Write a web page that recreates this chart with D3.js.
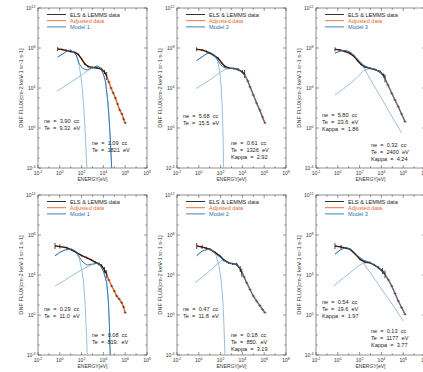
<!DOCTYPE html>
<html>
<head>
<meta charset="utf-8">
<script src="https://cdn.jsdelivr.net/npm/d3@7"></script>
<style>
  body { margin: 0; background: #fff; }
  svg { display: block; font-family: "Liberation Sans", Arial, sans-serif; }
</style>
</head>
<body>
<div id="chart"></div>
<script>
// values are [log10(E / eV), log10(flux)]; data rows carry an error (decades)
const p1Data = [[-0.2,7.9,0.2],[0.2,7.85,0.1],[0.6,7.75,0.1],[1.0,7.65,0.1],[1.4,7.55,0.1],[1.7,7.35,0.1],[2.0,6.9,0.1],[2.3,6.4,0.1],[2.6,6.15,0.1],[3.0,6.05,0.1],[3.4,6.0,0.1],[3.8,5.9,0.15],[4.1,5.6,0.2],[4.3,5.2,0.4]];
const p1Adjusted = [[4.5,4.6],[4.7,4.0],[4.9,3.5],[5.1,3.0],[5.3,2.4],[5.5,1.8],[5.7,1.4],[5.85,0.9],[6.0,0.5]];
const p1Cold = [[-0.2,7.03],[0,7.22],[0.5,7.62],[1.0,7.8],[1.5,7.29],[1.8,6.13],[2.0,4.61],[2.2,2.09],[2.35,-0.8],[2.45,-3.4],[2.5,-4]];
const p1Hot = [[-0.25,3.7],[1,4.55],[2,5.3],[2.5,5.7],[3,6.0],[3.4,6.2],[3.7,6.05],[4.0,5.4],[4.2,4.6],[4.4,2.7],[4.55,0.5],[4.65,-1.5],[4.76,-4]];
const p1Model = [[-0.2,7.1],[0.2,7.35],[0.6,7.65],[1.0,7.8],[1.5,7.35],[1.8,6.4],[2.1,5.95],[2.5,5.8],[3.0,6.05],[3.4,6.2],[3.7,6.05],[4.0,5.4],[4.2,4.6],[4.4,2.7],[4.55,0.5],[4.65,-1.5],[4.76,-4]];

const p2Data = [[-0.2,7.87,0.2],[0.3,7.8,0.1],[0.7,7.65,0.1],[1.0,7.5,0.1],[1.4,7.25,0.1],[1.8,6.95,0.1],[2.1,6.5,0.1],[2.4,6.15,0.1],[2.8,6.0,0.1],[3.2,5.95,0.1],[3.6,5.85,0.15],[4.0,5.6,0.2],[4.2,5.4,0.4]];
const p2Adjusted = [[4.5,4.7],[4.7,4.1],[5.0,3.3],[5.3,2.5],[5.6,1.8],[5.85,1.1],[6.07,0.5]];
const p2Cold = [[-0.2,6.7],[0.3,7.1],[0.7,7.4],[1.1,7.5],[1.4,7.3],[1.7,6.75],[1.9,5.8],[2.05,4.2],[2.15,2.0],[2.22,-0.5],[2.28,-4]];
const p2Hot = [[-0.2,3.97],[0.5,4.45],[1.0,4.8],[1.5,5.2],[2.0,5.6],[2.4,5.85],[2.8,5.95],[3.2,5.95],[3.6,5.85],[4.0,5.55],[4.4,4.9],[4.8,3.9],[5.2,2.8],[5.6,1.7],[6.0,0.65]];
const p2Model = [[-0.2,6.75],[0.3,7.12],[0.7,7.42],[1.1,7.52],[1.4,7.32],[1.7,6.85],[2.0,6.3],[2.4,6.0],[2.8,5.97],[3.2,5.95],[3.6,5.85],[4.0,5.55],[4.4,4.9],[4.8,3.9],[5.2,2.8],[5.6,1.7],[6.0,0.65]];

const p3Data = [[-0.26,7.87,0.2],[0.2,7.8,0.1],[0.6,7.68,0.1],[1.1,7.47,0.1],[1.5,7.15,0.1],[1.8,6.75,0.1],[2.1,6.4,0.1],[2.5,6.1,0.1],[2.95,5.97,0.1],[3.4,5.85,0.1],[3.87,5.63,0.15],[4.2,5.25,0.2],[4.33,4.97,0.4]];
const p3Adjusted = [[4.6,4.3],[4.95,3.47],[5.25,2.8],[5.55,2.13],[5.85,1.4],[6.17,0.63]];
const p3Cold = [[-0.26,7.47],[0.3,7.7],[0.82,7.73],[1.3,7.45],[1.8,6.85],[2.4,6.0],[3.0,4.84],[3.6,3.72],[4.2,2.6],[4.8,1.46],[5.3,0.52],[5.86,-0.5]];
const p3Hot = [[-0.26,3.3],[0.5,3.9],[1.2,4.5],[1.8,5.1],[2.4,5.75],[2.9,5.95],[3.4,5.85],[3.87,5.6],[4.3,4.95],[4.8,3.8],[5.3,2.65],[5.8,1.5],[6.17,0.63]];
const p3Model = [[-0.26,7.5],[0.3,7.72],[0.82,7.75],[1.3,7.47],[1.8,6.9],[2.4,6.25],[2.9,6.0],[3.4,5.87],[3.87,5.63],[4.3,5.0],[4.8,3.85],[5.3,2.7],[5.8,1.55],[6.17,0.65]];

const p4Data = [[-0.44,6.9,0.3],[0.0,6.85,0.2],[0.63,6.73,0.1],[1.1,6.5,0.1],[1.55,6.23,0.1],[2.0,5.95,0.1],[2.47,5.73,0.1],[2.9,5.5,0.1],[3.23,5.3,0.1],[3.6,5.1,0.15],[3.84,4.9,0.2],[4.1,4.5,0.3],[4.3,4.07,0.4]];
const p4Adjusted = [[4.5,3.5],[4.76,2.9],[5.0,2.4],[5.22,1.9],[5.45,1.6],[5.68,1.23],[5.85,0.8],[6.0,0.23]];
const p4Cold = [[-0.44,5.9],[0.0,6.25],[0.5,6.5],[1.09,6.57],[1.5,6.3],[1.8,5.6],[2.0,4.6],[2.16,3.5],[2.3,1.5],[2.42,-1.2],[2.52,-4]];
const p4Hot = [[-0.44,2.9],[0.5,3.5],[1.5,4.2],[2.5,4.8],[3.0,5.05],[3.38,5.15],[3.69,5.0],[4.0,4.4],[4.3,3.23],[4.45,1.5],[4.55,-1],[4.62,-4]];
const p4Model = [[-0.44,5.92],[0.0,6.27],[0.5,6.52],[1.09,6.6],[1.5,6.35],[1.8,5.8],[2.1,5.3],[2.5,5.0],[3.0,5.1],[3.38,5.17],[3.69,5.0],[4.0,4.4],[4.3,3.23],[4.45,1.5],[4.55,-1],[4.62,-4]];

const p5Data = [[-0.19,6.9,0.3],[0.3,6.8,0.2],[0.7,6.68,0.1],[1.03,6.57,0.1],[1.5,6.25,0.1],[1.94,5.9,0.1],[2.3,5.5,0.1],[2.71,5.23,0.1],[3.1,5.12,0.1],[3.48,5.07,0.15],[3.8,4.6,0.3],[3.94,4.23,0.4]];
const p5Adjusted = [[4.15,3.8],[4.39,3.23],[4.7,2.55],[5.0,1.9],[5.3,1.4],[5.6,0.95],[5.85,0.55],[6.07,0.23]];
const p5Cold = [[-0.19,5.9],[0.3,6.35],[0.87,6.57],[1.3,6.4],[1.6,5.9],[1.85,4.9],[2.05,3.5],[2.2,1.5],[2.3,-0.8],[2.4,-4]];
const p5Hot = [[-0.35,3.23],[0.5,3.95],[1.2,4.6],[1.7,5.1],[2.1,5.45],[2.5,5.3],[2.9,5.15],[3.4,5.05],[3.9,4.5],[4.39,3.23],[5.0,1.9],[5.6,0.95],[6.07,0.2]];
const p5Model = [[-0.19,5.95],[0.3,6.4],[0.87,6.6],[1.3,6.45],[1.6,6.05],[1.94,5.8],[2.3,5.45],[2.71,5.23],[3.1,5.12],[3.48,5.05],[3.9,4.5],[4.39,3.23],[5.0,1.9],[5.6,0.95],[6.07,0.2]];

const p6Data = [[-0.26,6.9,0.3],[0.3,6.8,0.2],[0.7,6.7,0.1],[1.12,6.57,0.1],[1.6,6.1,0.1],[2.04,5.57,0.1],[2.5,5.3,0.1],[2.95,5.23,0.1],[3.35,5.0,0.1],[3.72,4.73,0.15],[4.1,4.4,0.3],[4.33,4.07,0.4]];
const p6Adjusted = [[4.65,3.5],[4.95,2.9],[5.25,2.15],[5.55,1.4],[5.85,0.75],[6.17,0.07]];
const p6Cold = [[-0.26,6.07],[0.3,6.55],[0.82,6.73],[1.3,6.45],[1.8,5.9],[2.34,5.23],[3.0,4.2],[3.6,3.25],[4.2,2.3],[4.8,1.4],[5.4,0.4],[6.0,-0.6]];
const p6Hot = [[-0.4,2.9],[0.4,3.6],[1.2,4.3],[1.8,4.85],[2.34,5.2],[2.95,5.2],[3.35,5.0],[3.72,4.7],[4.33,4.0],[4.95,2.9],[5.55,1.4],[6.17,0.07]];
const p6Model = [[-0.26,6.1],[0.3,6.57],[0.82,6.75],[1.3,6.5],[1.8,5.95],[2.34,5.5],[2.95,5.25],[3.35,5.0],[3.72,4.73],[4.33,4.05],[4.95,2.9],[5.55,1.4],[6.17,0.07]];

const modelNames = ["Model 1", "Model 2", "Model 3", "Model 1", "Model 2", "Model 3"];
const coldLabels = [
  ["ne = 3.90 cc", "Te = 9.32 eV"],
  ["ne = 5.68 cc", "Te = 15.5 eV"],
  ["ne = 5.80 cc", "Te = 23.6 eV", "Kappa = 1.86"],
  ["ne = 0.29 cc", "Te = 11.0 eV"],
  ["ne = 0.47 cc", "Te = 11.8 eV"],
  ["ne = 0.54 cc", "Te = 19.6 eV", "Kappa = 1.97"]
];
const hotLabels = [
  ["ne = 1.09 cc", "Te = 1821 eV"],
  ["ne = 0.61 cc", "Te = 1326 eV", "Kappa = 2.92"],
  ["ne = 0.32 cc", "Te = 2400 eV", "Kappa = 4.24"],
  ["ne = 0.08 cc", "Te = 819. eV"],
  ["ne = 0.18 cc", "Te = 850. eV", "Kappa = 3.19"],
  ["ne = 0.13 cc", "Te = 1177 eV", "Kappa = 3.77"]
];
const xTickExps = [-2, 0, 2, 4, 6, 8];
const yTickExps = [-4, 0, 4, 8, 12];

const panels = [
  { data: p1Data, adj: p1Adjusted, cold: p1Cold, hot: p1Hot, model: p1Model },
  { data: p2Data, adj: p2Adjusted, cold: p2Cold, hot: p2Hot, model: p2Model },
  { data: p3Data, adj: p3Adjusted, cold: p3Cold, hot: p3Hot, model: p3Model },
  { data: p4Data, adj: p4Adjusted, cold: p4Cold, hot: p4Hot, model: p4Model },
  { data: p5Data, adj: p5Adjusted, cold: p5Cold, hot: p5Hot, model: p5Model },
  { data: p6Data, adj: p6Adjusted, cold: p6Cold, hot: p6Hot, model: p6Model }
];

const width = 423, height = 372;
const lefts = [38, 177, 316], tops = [8, 195];
const pw = 109, ph = 160;
const coldPos = [[6, 115], [6, 110], [6, 109], [6, 116], [6, 116], [6, 109]];
const hotPos = [[54, 137], [54, 137], [55, 139], [54, 142], [54, 142], [55, 138]];

const orange = "#e8672a", blue = "#2a72b0", light = "#90b8da", ink = "#1a1a1a";

const svg = d3.select("#chart").append("svg")
  .attr("width", width).attr("height", height);

const clipId = "plotclip";
svg.append("defs").append("clipPath").attr("id", clipId)
  .append("rect").attr("width", pw).attr("height", ph);

function sup(sel, exp) {
  sel.append("tspan").text("10");
  sel.append("tspan").attr("dy", -2.2).style("font-size", "3.6px").text(exp);
}

panels.forEach((p, i) => {
  const col = i % 3, row = Math.floor(i / 3);
  const g = svg.append("g")
    .attr("transform", `translate(${lefts[col]},${tops[row]})`);

  const x = d3.scaleLog().domain([1e-2, 1e8]).range([0, pw]);
  const y = d3.scaleLog().domain([1e-4, 1e12]).range([ph, 0]);
  const line = d3.line()
    .x(d => x(Math.pow(10, d[0])))
    .y(d => y(Math.pow(10, d[1])));

  // frame + ticks
  g.append("rect").attr("width", pw).attr("height", ph)
    .attr("fill", "none").attr("stroke", "#444").attr("stroke-width", 0.6);

  d3.range(-2, 9).forEach(e => {
    const len = e % 2 === 0 ? 3 : 1.8;
    const tx = x(Math.pow(10, e));
    g.append("line").attr("x1", tx).attr("x2", tx)
      .attr("y1", ph).attr("y2", ph - len).attr("stroke", "#333").attr("stroke-width", 0.5);
    g.append("line").attr("x1", tx).attr("x2", tx)
      .attr("y1", 0).attr("y2", len).attr("stroke", "#333").attr("stroke-width", 0.5);
  });
  d3.range(-4, 13).forEach(e => {
    const len = e % 4 === 0 ? 3 : 1.6;
    const ty = y(Math.pow(10, e));
    g.append("line").attr("x1", 0).attr("x2", len)
      .attr("y1", ty).attr("y2", ty).attr("stroke", "#333").attr("stroke-width", 0.5);
    g.append("line").attr("x1", pw).attr("x2", pw - len)
      .attr("y1", ty).attr("y2", ty).attr("stroke", "#333").attr("stroke-width", 0.5);
  });

  xTickExps.forEach(e => {
    const t = g.append("text").attr("x", x(Math.pow(10, e))).attr("y", ph + 7)
      .attr("text-anchor", "middle").attr("font-size", "5px").attr("fill", "#333");
    sup(t, e);
  });
  yTickExps.forEach(e => {
    const t = g.append("text").attr("x", -2.5).attr("y", y(Math.pow(10, e)) + 1.7)
      .attr("text-anchor", "end").attr("font-size", "5px").attr("fill", "#333");
    sup(t, e);
  });

  g.append("text").attr("x", pw / 2).attr("y", ph + 13)
    .attr("text-anchor", "middle").attr("font-size", "5px").attr("fill", "#333")
    .text("ENERGY[eV]");
  g.append("text")
    .attr("transform", `translate(-15.5,${ph / 2}) rotate(-90)`)
    .attr("text-anchor", "middle").attr("font-size", "5.6px").attr("fill", "#333")
    .text("DNF FLUX[cm-2 keV-1 sr-1 s-1]");

  // curves
  const plot = g.append("g").attr("clip-path", `url(#${clipId})`);
  plot.append("path").datum(p.cold).attr("d", line)
    .attr("fill", "none").attr("stroke", light).attr("stroke-width", 0.9);
  plot.append("path").datum(p.hot).attr("d", line)
    .attr("fill", "none").attr("stroke", light).attr("stroke-width", 0.9);

  const adjusted = p.data.map(d => [d[0], d[1]]).concat(p.adj);
  plot.append("path").datum(adjusted).attr("d", line)
    .attr("fill", "none").attr("stroke", orange).attr("stroke-width", 1.5);
  plot.append("path").datum(p.data).attr("d", line)
    .attr("fill", "none").attr("stroke", ink).attr("stroke-width", 1.1);

  // error bars
  p.data.forEach(d => {
    const cx = x(Math.pow(10, d[0]));
    plot.append("line").attr("x1", cx).attr("x2", cx)
      .attr("y1", y(Math.pow(10, d[1] - d[2]))).attr("y2", y(Math.pow(10, d[1] + d[2])))
      .attr("stroke", ink).attr("stroke-width", 0.8);
  });
  p.adj.forEach(d => {
    const cx = x(Math.pow(10, d[0])), cy = y(Math.pow(10, d[1]));
    plot.append("line").attr("x1", cx - 1.6).attr("x2", cx + 1.6)
      .attr("y1", cy).attr("y2", cy).attr("stroke", ink).attr("stroke-width", 0.5);
    plot.append("line").attr("x1", cx).attr("x2", cx)
      .attr("y1", cy - 1.2).attr("y2", cy + 1.2).attr("stroke", ink).attr("stroke-width", 0.5);
  });

  plot.append("path").datum(p.model).attr("d", line)
    .attr("fill", "none").attr("stroke", blue).attr("stroke-width", 0.9);

  // legend
  const legend = [["ELS & LEMMS data", ink], ["Adjusted data", orange], [modelNames[i], blue]];
  legend.forEach((l, k) => {
    const ly = 6.5 + k * 6.2;
    g.append("line").attr("x1", 9).attr("x2", 28).attr("y1", ly).attr("y2", ly)
      .attr("stroke", l[1]).attr("stroke-width", 0.9);
    g.append("text").attr("x", 32).attr("y", ly + 2)
      .attr("font-size", "5.6px").attr("fill", l[1]).text(l[0]);
  });

  // fit parameters
  coldLabels[i].forEach((s, k) => {
    g.append("text").attr("x", coldPos[i][0]).attr("y", coldPos[i][1] + k * 7.2)
      .attr("font-size", "5.6px").attr("fill", "#222").attr("xml:space", "preserve")
      .text(s.replace(/ = /, "  =  ").replace(/ (cc|eV)$/, "  $1"));
  });
  hotLabels[i].forEach((s, k) => {
    g.append("text").attr("x", hotPos[i][0]).attr("y", hotPos[i][1] + k * 7.2)
      .attr("font-size", "5.6px").attr("fill", "#222").attr("xml:space", "preserve")
      .text(s.replace(/ = /, "  =  ").replace(/ (cc|eV)$/, "  $1"));
  });
});
</script>
</body>
</html>
